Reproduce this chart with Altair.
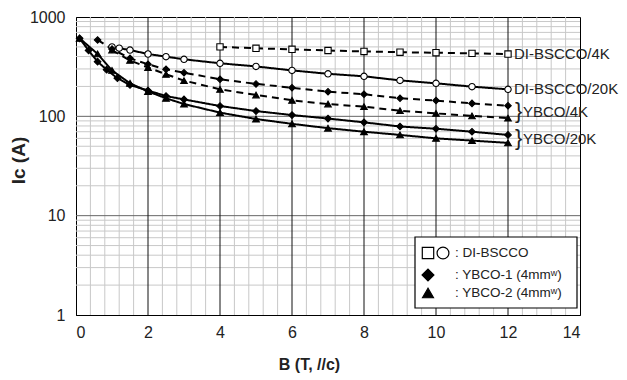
import altair as alt
import pandas as pd
import numpy as np

# ---- data ----
B_DI4 = [4, 5, 6, 7, 8, 9, 10, 11, 12]
Ic_DI4 = [500, 484, 473, 460, 450, 442, 437, 430, 424]

B_DI20 = [1.0, 1.2, 1.5, 2, 2.5, 3, 4, 5, 6, 7, 8, 9, 10, 11, 12]
Ic_DI20 = [500, 485, 465, 424, 399, 375, 342, 318, 290, 268, 253, 230, 215, 199, 187]

B_Y1_4 = [0.6, 1.0, 1.5, 2, 2.5, 3, 4, 5, 6, 7, 8, 9, 10, 11, 12]
Ic_Y1_4 = [588, 475, 384, 334, 297, 275, 236, 212, 194, 177, 167, 152, 144, 135, 128]

B_Y2_4 = [1.0, 1.5, 2, 2.5, 3, 4, 5, 6, 7, 8, 9, 10, 11, 12]
Ic_Y2_4 = [465, 365, 310, 265, 229, 187, 164, 145, 133, 125, 114, 107, 101, 96]

B_Y1_20 = [0.1, 0.35, 0.6, 0.85, 1.15, 1.5, 2, 2.5, 3, 4, 5, 6, 7, 8, 9, 10, 11, 12]
Ic_Y1_20 = [610, 460, 355, 295, 242, 207, 182, 160, 148, 127, 113, 103, 95, 87, 79, 75, 70, 65]

B_Y2_20 = [0.1, 0.6, 1.0, 1.5, 2, 2.5, 3, 4, 5, 6, 7, 8, 9, 10, 11, 12]
Ic_Y2_20 = [610, 425, 290, 215, 178, 152, 133, 109, 94, 84, 76, 70, 65, 60, 57, 54]

series_names = ["DI-BSCCO 4K", "DI-BSCCO 20K", "YBCO-1 4K", "YBCO-2 4K", "YBCO-1 20K", "YBCO-2 20K"]
series_B = [B_DI4, B_DI20, B_Y1_4, B_Y2_4, B_Y1_20, B_Y2_20]
series_Ic = [Ic_DI4, Ic_DI20, Ic_Y1_4, Ic_Y2_4, Ic_Y1_20, Ic_Y2_20]
series_shape = ["square", "circle", "diamond", "triangle-up", "diamond", "triangle-up"]
series_fill = ["white", "white", "black", "black", "black", "black"]
series_dash = [[7, 5], [1, 0], [7, 5], [7, 5], [1, 0], [1, 0]]
series_size = [40, 45, 30, 30, 22, 26]

right_labels_di = ["DI-BSCCO/4K", "DI-BSCCO/20K"]
right_labels_y = ["YBCO/4K", "YBCO/20K"]

legend_texts = [": DI-BSCCO", ": YBCO-1 (4mm\u02b7)", ": YBCO-2 (4mm\u02b7)"]

x_ticks = [0, 2, 4, 6, 8, 10, 12, 14]
y_ticks = [1, 10, 100, 1000]

x_title = "B (T, //c)"
y_title = "Ic (A)"

FONT = "Liberation Sans"

rows = []
for n, bs, ics in zip(series_names, series_B, series_Ic):
    for b, v in zip(bs, ics):
        rows.append({"B": b, "Ic": v, "series": n})
df = pd.DataFrame(rows)

# label anchors derived from the last points of the series
di_lab = pd.DataFrame({
    "B": [B_DI4[-1], B_DI20[-1]],
    "Ic": [Ic_DI4[-1], Ic_DI20[-1]],
    "label": right_labels_di,
})
y_lab = pd.DataFrame({
    "B": [B_Y1_4[-1], B_Y1_20[-1]],
    "Ic": [float(np.sqrt(Ic_Y1_4[-1] * Ic_Y2_4[-1])), float(np.sqrt(Ic_Y1_20[-1] * Ic_Y2_20[-1]))],
    "label": right_labels_y,
})

# grid positions (styling)
gx_minor = pd.DataFrame({"v": [round(0.4 * k, 1) for k in range(1, 35) if k % 5 != 0]})
gx_major = pd.DataFrame({"v": x_ticks[1:-1]})
gy_minor = pd.DataFrame({"v": [m * 10 ** e for e in range(3) for m in range(2, 10)]})
gy_major = pd.DataFrame({"v": y_ticks[1:-1]})

x_scale = alt.Scale(domain=[0, 14], nice=False, zero=False)
y_scale = alt.Scale(type="log", domain=[1, 1000], nice=False)

x_axis = alt.Axis(
    values=x_ticks, format="d", grid=False, ticks=False, labelOverlap=False,
    domainColor="black",
    labelFont=FONT, labelFontSize=16, labelColor="#222222", labelPadding=9,
    title=x_title, titleFont=FONT, titleFontSize=16, titleFontWeight="bold",
    titleColor="#222222", titlePadding=16, titleX=233,
)
y_axis = alt.Axis(
    values=y_ticks, format="d", grid=False, ticks=False, labelOverlap=False,
    domainColor="black",
    labelFont=FONT, labelFontSize=16, labelColor="#222222", labelPadding=11,
    title=y_title, titleFont=FONT, titleFontSize=19, titleFontWeight="bold",
    titleColor="#222222", titlePadding=1, titleY=143,
)

def vrules(d, color):
    return alt.Chart(d).mark_rule(color=color, strokeWidth=1).encode(
        x=alt.X("v:Q", scale=x_scale, axis=x_axis))

def hrules(d, color):
    return alt.Chart(d).mark_rule(color=color, strokeWidth=1).encode(
        y=alt.Y("v:Q", scale=y_scale, axis=y_axis))

grid_layers = [
    vrules(gx_minor, "#c8c8c8"),
    hrules(gy_minor, "#c8c8c8"),
    hrules(gy_major, "#666666"),
    vrules(gx_major, "#111111"),
]

base = alt.Chart(df)

lines = base.mark_line(color="black", strokeWidth=2).encode(
    x=alt.X("B:Q", scale=x_scale, axis=x_axis),
    y=alt.Y("Ic:Q", scale=y_scale, axis=y_axis),
    strokeDash=alt.StrokeDash("series:N", scale=alt.Scale(domain=series_names, range=series_dash), legend=None),
)

points = base.mark_point(filled=True, stroke="black", strokeWidth=1.1, opacity=1).encode(
    x="B:Q",
    y="Ic:Q",
    shape=alt.Shape("series:N", scale=alt.Scale(domain=series_names, range=series_shape), legend=None),
    fill=alt.Fill("series:N", scale=alt.Scale(domain=series_names, range=series_fill), legend=None),
    size=alt.Size("series:N", scale=alt.Scale(domain=series_names, range=series_size), legend=None),
)

lab_di = alt.Chart(di_lab).mark_text(align="left", baseline="middle", dx=6, font=FONT,
                                     fontSize=15, color="#222222").encode(
    x="B:Q", y="Ic:Q", text="label:N")
brace = alt.Chart(y_lab).mark_text(align="left", baseline="middle", dx=7, dy=-1, font=FONT,
                                   fontSize=22, fontWeight="normal", color="#222222").encode(
    x="B:Q", y="Ic:Q", text=alt.value("}"))
lab_y = alt.Chart(y_lab).mark_text(align="left", baseline="middle", dx=15, font=FONT,
                                   fontSize=15, color="#222222").encode(
    x="B:Q", y="Ic:Q", text="label:N")

one = pd.DataFrame({"k": [0]})
box = alt.Chart(one).mark_rect(fill="white", stroke="black", strokeWidth=1.2).encode(
    x=alt.value(339), x2=alt.value(501), y=alt.value(220), y2=alt.value(291))

def sym(shape, fill, px, py, size):
    return alt.Chart(one).mark_point(shape=shape, fill=fill, stroke="black", strokeWidth=1.2,
                                     size=size, opacity=1, filled=True).encode(
        x=alt.value(px), y=alt.value(py))

def txt(t, px, py):
    return alt.Chart(one).mark_text(align="left", baseline="middle", font=FONT, fontSize=13.5,
                                    color="#222222").encode(
        x=alt.value(px), y=alt.value(py), text=alt.value(t))

legend_layers = [
    box,
    sym("square", "white", 352, 236, 130),
    sym("circle", "white", 367, 236, 140),
    sym("diamond", "black", 352, 258, 140),
    sym("triangle-up", "black", 352, 276, 120),
    txt(legend_texts[0], 379, 236),
    txt(legend_texts[1], 379, 258),
    txt(legend_texts[2], 379, 276),
]

chart = alt.layer(*grid_layers, lines, points, lab_di, brace, lab_y, *legend_layers).properties(
    width=504, height=298,
    autosize=alt.AutoSizeParams(type="none"),
    padding={"left": 68, "top": 9, "right": 39, "bottom": 63},
).configure_view(stroke="black", strokeWidth=1)

chart.save("out.html", embed_options={"renderer": "svg", "actions": False})
